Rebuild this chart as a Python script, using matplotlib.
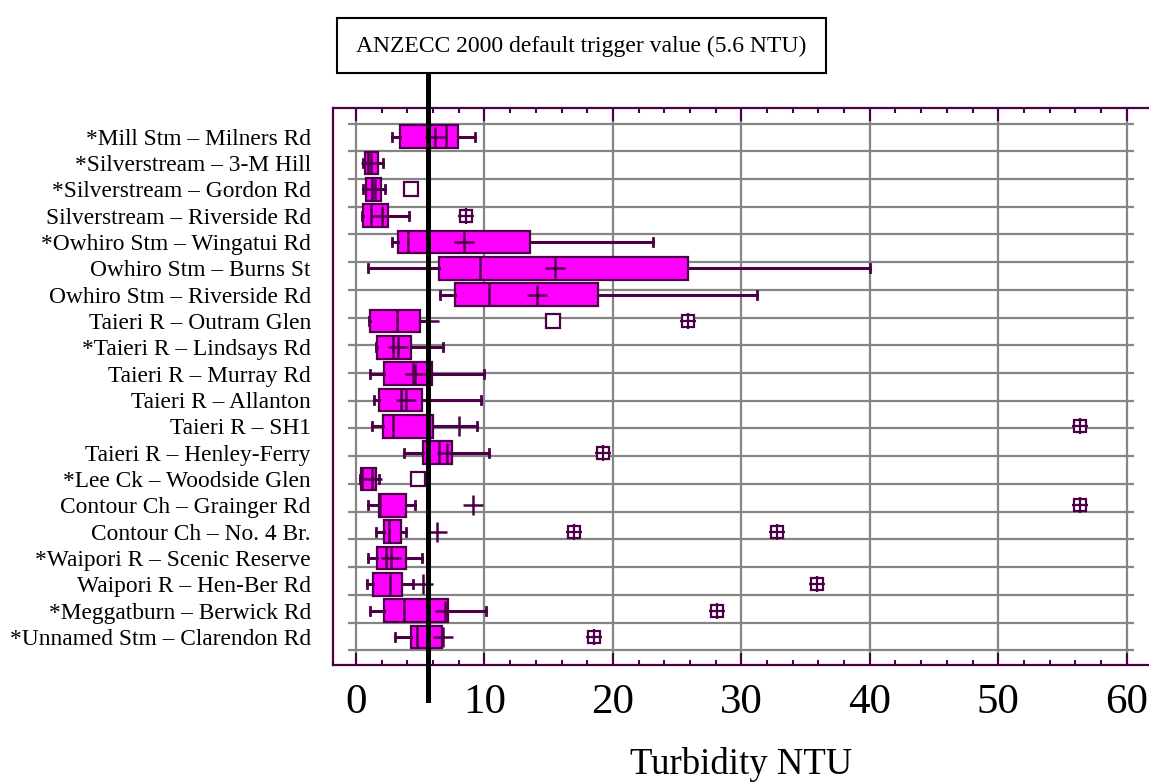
import numpy as np
import matplotlib.pyplot as plt
from matplotlib.patches import Rectangle
from matplotlib.ticker import MultipleLocator

plt.rcParams['font.family'] = ['Liberation Serif', 'DejaVu Serif']

sites = [
    '*Mill Stm – Milners Rd',
    '*Silverstream – 3-M Hill',
    '*Silverstream – Gordon Rd',
    'Silverstream – Riverside Rd',
    '*Owhiro Stm – Wingatui Rd',
    'Owhiro Stm – Burns St',
    'Owhiro Stm – Riverside Rd',
    'Taieri R – Outram Glen',
    '*Taieri R – Lindsays Rd',
    'Taieri R – Murray Rd',
    'Taieri R – Allanton',
    'Taieri R – SH1',
    'Taieri R – Henley-Ferry',
    '*Lee Ck – Woodside Glen',
    'Contour Ch – Grainger Rd',
    'Contour Ch – No. 4 Br.',
    '*Waipori R – Scenic Reserve',
    'Waipori R – Hen-Ber Rd',
    '*Meggatburn – Berwick Rd',
    '*Unnamed Stm – Clarendon Rd',
]

# box statistics, turbidity in NTU
q1 = [3.42, 0.67, 0.80, 0.52, 3.29, 6.49, 7.73, 1.09, 1.66, 2.18,
      1.79, 2.07, 5.24, 0.39, 1.81, 2.18, 1.66, 1.35, 2.18, 4.25]
median = [7.03, 0.91, 1.22, 1.19, 4.02, 9.65, 10.38, 3.21, 2.90, 4.41,
          3.47, 2.90, 6.49, 0.50, 1.87, 2.59, 2.33, 2.65, 3.74, 4.72]
q3 = [7.91, 1.68, 1.95, 2.52, 13.54, 25.86, 18.81, 4.98, 4.28, 5.94,
      5.11, 6.02, 7.47, 1.53, 3.89, 3.47, 3.89, 3.60, 7.18, 6.67]
whisk_lo = [2.78, 0.52, 0.54, 0.45, 2.78, 0.96, 6.54, 1.01, 1.53, 1.09,
            1.40, 1.27, 3.74, 0.31, 0.96, 1.53, 0.96, 0.83, 1.09, 3.04]
whisk_hi = [9.26, 2.07, 2.26, 4.15, 23.09, 40.0, 31.23, 5.50, 6.80, 9.99,
            9.70, 9.39, 10.38, 1.79, 4.59, 3.89, 5.14, 4.41, 10.12, 6.67]
means = [6.15, 1.14, 1.48, 2.05, 8.43, 15.51, 14.11, 5.66, 3.24, 4.59,
         3.89, 8.02, 7.06, 1.22, 9.13, 6.28, 2.72, 5.19, 6.90, 6.80]

# outside values (open squares) and far outside values (crossed squares)
near_rows = [2, 7, 13]
near_vals = [4.28, 15.3, 4.82]
far_rows = [3, 7, 11, 12, 14, 15, 15, 17, 18, 19]
far_vals = [8.56, 25.86, 56.4, 19.2, 56.4, 16.99, 32.76, 35.93, 28.07, 18.55]

trigger = 5.6

purple = '#4b0048'
magenta = '#ff00ff'
grey = '#858585'

fig = plt.figure(figsize=(11.49, 7.82), dpi=100)
ax = fig.add_axes([333 / 1149, 1 - 665 / 782, 1 - 333 / 1149, (665 - 108) / 782])

stats = []
for i in range(len(sites)):
    stats.append(dict(med=median[i], q1=q1[i], q3=q3[i], whislo=whisk_lo[i],
                      whishi=whisk_hi[i], mean=means[i], fliers=[]))

pos = np.arange(len(sites))
ax.bxp(stats, positions=pos, widths=0.86, orientation='horizontal',
       patch_artist=True, showmeans=True, showfliers=False, manage_ticks=False,
       capwidths=0.3,
       boxprops=dict(facecolor=magenta, edgecolor=purple, linewidth=1.6),
       whiskerprops=dict(color=purple, linewidth=2.2),
       capprops=dict(color=purple, linewidth=2),
       medianprops=dict(color=purple, linewidth=1.8),
       meanprops=dict(marker='+', markeredgecolor=purple, markersize=14,
                      markeredgewidth=1.8),
       zorder=3)

ax.plot(near_vals, near_rows, ls='none', marker='s', ms=9.5, mfc='white',
        mec=purple, mew=1.6, zorder=4)
ax.plot(far_vals, far_rows, ls='none', marker='s', ms=9, mfc='white',
        mec=purple, mew=1.6, zorder=4)
ax.plot(far_vals, far_rows, ls='none', marker='+', ms=11, mec=purple,
        mew=1.6, zorder=5)

# grid: 20 horizontal lines over the rows, vertical lines every 10 NTU
ax.hlines(np.linspace(-0.5, 19.5, 20), -0.62, 60.57, color=grey, lw=1.6, zorder=1)
ax.xaxis.grid(True, which='major', color=grey, lw=1.6, zorder=1)
ax.set_axisbelow(True)

ax.set_xlim(-1.79, 61.74)
ax.set_ylim(20.06, -1.09)
ax.xaxis.set_major_locator(MultipleLocator(10))
ax.xaxis.set_minor_locator(MultipleLocator(2))
ax.tick_params(axis='x', which='both', direction='in', top=True, bottom=True,
               color=purple, width=1.5, labelsize=31, pad=13)
ax.tick_params(axis='x', which='major', length=9)
ax.tick_params(axis='x', which='minor', length=3.6)
ax.set_yticks(pos)
ax.set_yticklabels(sites, fontsize=16.8)
ax.tick_params(axis='y', length=0, pad=16)

for side in ['left', 'top', 'bottom']:
    ax.spines[side].set_color(purple)
    ax.spines[side].set_linewidth(1.6)
ax.spines['right'].set_visible(False)

# trigger value line running from the caption box down past the axis
ax.plot([trigger, trigger], [-0.063, 1.063], transform=ax.get_xaxis_transform(),
        color='black', lw=3.6, clip_on=False, zorder=6)

box = Rectangle((337 / 1149, 1 - 73.3 / 782), (826 - 337) / 1149, 55 / 782,
                transform=fig.transFigure, facecolor='white', edgecolor='black',
                lw=1.5)
fig.patches.append(box)
fig.text((337 + 826) / 2 / 1149, 1 - 46 / 782,
         'ANZECC 2000 default trigger value (5.6 NTU)',
         ha='center', va='center', fontsize=17)

fig.text(741 / 1149, 1 - 764 / 782, 'Turbidity NTU', ha='center', va='center',
         fontsize=26.5)

fig.savefig('out.png', dpi=100)
